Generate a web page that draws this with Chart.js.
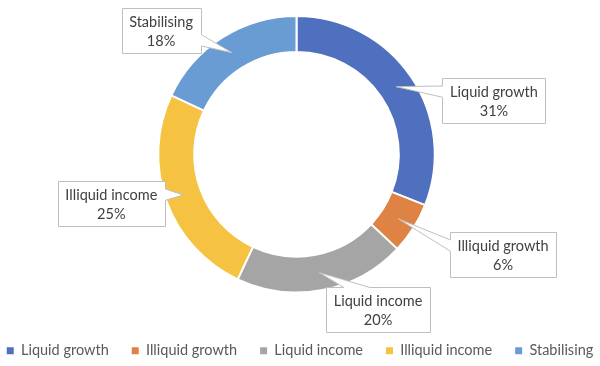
<!DOCTYPE html>
<html>
<head>
<meta charset="utf-8">
<script src="https://cdn.jsdelivr.net/npm/chart.js@4.4.1/dist/chart.umd.min.js"></script>
<style>
  html, body { margin: 0; padding: 0; background: #fff; }
  #wrap { width: 600px; height: 366px; }
</style>
</head>
<body>
<div id="wrap"><canvas id="chart" width="600" height="366"></canvas></div>
<script>
const categories = ['Liquid growth', 'Illiquid growth', 'Liquid income', 'Illiquid income', 'Stabilising']
const shares = [31, 6, 20, 25, 18]
const colours = ['#4E70BE', '#DE8344', '#A5A5A5', '#F5C242', '#699CD3']

// where each callout box sits, relative to the middle of its slice
const calloutOffsets = [[98, 14], [105, 36], [59, 37], [-72, 9], [-71, -22]]

const FONT = 'Lato, "Open Sans", sans-serif'
const FONT_SIZE = 14.5

// Excel-style rectangular callouts with a wedge pointing into the slice
const callouts = {
  id: 'callouts',
  afterDatasetsDraw(chart) {
    const ctx = chart.ctx
    const arcs = chart.getDatasetMeta(0).data
    ctx.save()
    ctx.font = FONT_SIZE + 'px ' + FONT
    arcs.forEach((arc, i) => {
      const tip = arc.tooltipPosition()
      const lines = [categories[i], shares[i] + '%']
      const w = Math.round(Math.max(...lines.map(t => ctx.measureText(t).width)) + 15)
      const h = 45
      const cx = tip.x + calloutOffsets[i][0]
      const cy = tip.y + calloutOffsets[i][1]
      const l = Math.round(cx - w / 2) + 0.5
      const t = Math.round(cy - h / 2) + 0.5
      const r = l + w, b = t + h
      const dx = tip.x - cx, dy = tip.y - cy
      const dq = dx * h / w
      const xa = l + w * (dx > 0 ? 7 : 2) / 12, xb = l + w * (dx > 0 ? 10 : 5) / 12
      const ya = t + h * (dy > 0 ? 7 : 2) / 12, yb = t + h * (dy > 0 ? 10 : 5) / 12
      const vertical = Math.abs(dy) > Math.abs(dq)

      ctx.beginPath()
      ctx.moveTo(l, t)
      if (vertical && dy < 0) { ctx.lineTo(xa, t); ctx.lineTo(tip.x, tip.y); ctx.lineTo(xb, t) }
      ctx.lineTo(r, t)
      if (!vertical && dx > 0) { ctx.lineTo(r, ya); ctx.lineTo(tip.x, tip.y); ctx.lineTo(r, yb) }
      ctx.lineTo(r, b)
      if (vertical && dy > 0) { ctx.lineTo(xb, b); ctx.lineTo(tip.x, tip.y); ctx.lineTo(xa, b) }
      ctx.lineTo(l, b)
      if (!vertical && dx < 0) { ctx.lineTo(l, yb); ctx.lineTo(tip.x, tip.y); ctx.lineTo(l, ya) }
      ctx.closePath()
      ctx.fillStyle = '#ffffff'
      ctx.fill()
      ctx.strokeStyle = '#BFBFBF'
      ctx.lineWidth = 1
      ctx.stroke()

      ctx.fillStyle = '#404040'
      ctx.textAlign = 'center'
      ctx.textBaseline = 'middle'
      ctx.fillText(lines[0], cx, t + h / 2 - 9)
      ctx.fillText(lines[1], cx, t + h / 2 + 10)
    })
    ctx.restore()
  }
}

// keep the legend on one row, centred on the canvas, with Excel's wide gaps between entries
const oneRowLegend = {
  id: 'oneRowLegend',
  beforeInit(chart) {
    const legend = chart.legend
    const fit = legend.fit
    legend.fit = function () {
      const maxWidth = this.maxWidth
      this.maxWidth = Infinity
      fit.call(this)
      this.maxWidth = maxWidth
      this.width = maxWidth
    }
    const draw = legend.draw
    legend.draw = function (area) {
      const { left, right } = this
      this.left = -20
      this.right = chart.width + 20
      draw.call(this, area)
      this.left = left
      this.right = right
    }
  }
}

const defaultLabels = Chart.overrides.doughnut.plugins.legend.labels.generateLabels

new Chart(document.getElementById('chart'), {
  type: 'doughnut',
  data: {
    labels: categories,
    datasets: [{
      data: shares,
      backgroundColor: colours,
      borderColor: '#ffffff',
      borderWidth: 2,
    }]
  },
  options: {
    responsive: false,
    animation: false,
    cutout: '74%',
    layout: { padding: { top: 15, bottom: -2, left: 0, right: 7 } },
    plugins: {
      tooltip: { enabled: false },
      legend: {
        position: 'bottom',
        title: { display: true, text: '', font: { size: 1, lineHeight: 1 }, padding: { top: 26, bottom: 0 } },
        labels: {
          color: '#595959',
          font: { family: FONT, size: FONT_SIZE },
          boxWidth: 7,
          boxHeight: 7,
          padding: 23,
          generateLabels: (chart) => defaultLabels(chart).map(item => ({ ...item, lineWidth: 0, strokeStyle: item.fillStyle }))
        }
      }
    }
  },
  plugins: [callouts, oneRowLegend]
})
</script>
</body>
</html>
